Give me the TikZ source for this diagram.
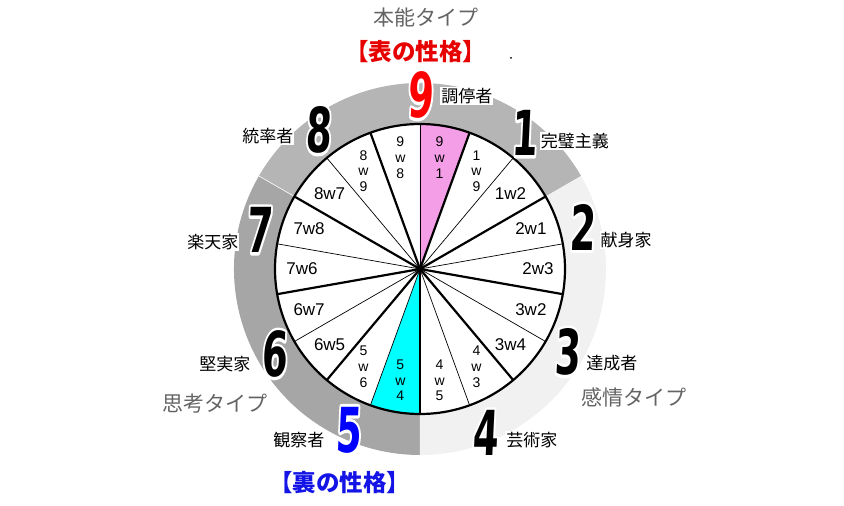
\documentclass[tikz,border=0pt]{standalone}
\usepackage{fontspec}
\usetikzlibrary{positioning}
\newfontfamily\jp{Noto Sans CJK JP}
\newfontfamily\bignum[FakeSlant=0.08]{DejaVu Sans}
\newfontfamily\wing{Liberation Sans}
\definecolor{instinct}{RGB}{181,181,181}
\definecolor{thinking}{RGB}{166,166,166}
\definecolor{feeling}{RGB}{241,241,241}
\definecolor{wingpink}{RGB}{245,158,232}
\definecolor{wingcyan}{RGB}{0,255,255}
\definecolor{titlegray}{RGB}{100,100,100}
\definecolor{frontred}{RGB}{230,0,0}
\definecolor{backblue}{RGB}{20,20,230}
% white outline drawn as stroked glyph under the filled one
\newcommand\bigdigit[1]{\scalebox{0.6}[1]{%
  \special{pdf:literal direct 1 Tr 6 w 1 j 1 1 1 RG}\rlap{#1}%
  \special{pdf:literal direct 0 Tr}#1}}
\tikzset{
  typenum/.style={inner sep=0pt, font=\bignum\bfseries\fontsize{62}{62}\selectfont},
  typename/.style={fill=white, inner sep=1pt, font=\jp\fontsize{17}{17}\selectfont},
  wingtxt/.style={inner sep=0pt, font=\wing\fontsize{17}{17}\selectfont},
  wingstack/.style={inner sep=0pt, font=\wing\fontsize{14}{15.8}\selectfont, align=center},
  grouptxt/.style={inner sep=0pt, text=titlegray, font=\jp\fontsize{21}{21}\selectfont},
  facetxt/.style={inner sep=0pt, font=\jp\bfseries\fontsize{23.5}{23.5}\selectfont},
  thickline/.style={line width=2.2pt},
  thinline/.style={line width=0.7pt}
}
\begin{document}
\begin{tikzpicture}[x=1pt,y=1pt]

  \newcommand\RI{145}
  \newcommand\RO{186}
  \newcommand\RW{118}
  \newcommand\RS{113}

  \useasboundingbox (-420,-237) rectangle (424,269);

  % outer ring: instinct / thinking / feeling
  \fill[instinct] (0,0) -- (30:\RO) arc[start angle=30, end angle=150, radius=\RO] -- cycle;
  \fill[thinking] (0,0) -- (150:\RO) arc[start angle=150, end angle=270, radius=\RO] -- cycle;
  \fill[feeling] (0,0) -- (270:\RO) arc[start angle=270, end angle=390, radius=\RO] -- cycle;
  \draw[white, line width=0.6pt] (150:\RI) -- (150:\RO);

  % wheel
  \fill[white] (0,0) circle[radius=\RI];
  \fill[wingpink] (0,0) -- (70:\RI) arc[start angle=70, end angle=90, radius=\RI] -- cycle;
  \fill[wingcyan] (0,0) -- (250:\RI) arc[start angle=250, end angle=270, radius=\RI] -- cycle;
  \foreach \a in {90,130,...,410}
    \draw[thinline] (0,0) -- (\a:\RI);
  \foreach \a in {70,110,...,390}
    \draw[thickline] (0,0) -- (\a:\RI);
  \draw[thickline] (0,0) circle[radius=\RI];

  % wings
  \foreach \a/\t in {40/1w2, 20/2w1, 0/2w3, -20/3w2, -40/3w4,
                     220/6w5, 200/6w7, 180/7w6, 160/7w8, 140/8w7}
    \node[wingtxt] (w\t) at (\a:\RW) {\t};
  \foreach \a/\p/\q in {100/9/8, 80/9/1, 60/1/9, -60/4/3, -80/4/5,
                        260/5/4, 240/5/6, 120/8/9}
    \node[wingstack] (w\p\q) at (\a:\RS) {\p\\w\\\q};

  % type names
  \node[typename] (t9) at (47,173)    {調停者};
  \node[typename] (t1) at (155,128)   {完璧主義};
  \node[typename] (t2) at (206,29)    {献身家};
  \node[typename] (t3) at (192,-94)   {達成者};
  \node[typename] (t4) at (112,-171)  {芸術家};
  \node[typename] (t5) at (-121,-171) {観察者};
  \node[typename] (t6) at (-195,-95)  {堅実家};
  \node[typename] (t7) at (-207,27)   {楽天家};
  \node[typename] (t8) at (-152,133)  {統率者};

  % type numbers
  \node[typenum, text=red]  (n9) at (0,174)     {\bigdigit{9}};
  \node[typenum]            (n1) at (104,136)   {\bigdigit{1}};
  \node[typenum]            (n2) at (162,42)    {\bigdigit{2}};
  \node[typenum]            (n3) at (147,-83)   {\bigdigit{3}};
  \node[typenum]            (n4) at (65,-164)   {\bigdigit{4}};
  \node[typenum, text=blue] (n5) at (-72,-161)  {\bigdigit{5}};
  \node[typenum]            (n6) at (-146,-85)  {\bigdigit{6}};
  \node[typenum]            (n7) at (-161,39)   {\bigdigit{7}};
  \node[typenum]            (n8) at (-102,139)  {\bigdigit{8}};

  % groups and titles
  \node[grouptxt] (gi) at (6,251)     {本能タイプ};
  \node[grouptxt] (gt) at (-205,-135) {思考タイプ};
  \node[grouptxt] (gf) at (214,-128)  {感情タイプ};
  \node[facetxt, text=frontred] (front) at (-4,217)   {【表の性格】};
  \node[facetxt, text=backblue] (back)  at (-80,-214) {【裏の性格】};
  \fill (91,211) circle[radius=1pt];

\end{tikzpicture}
\end{document}
